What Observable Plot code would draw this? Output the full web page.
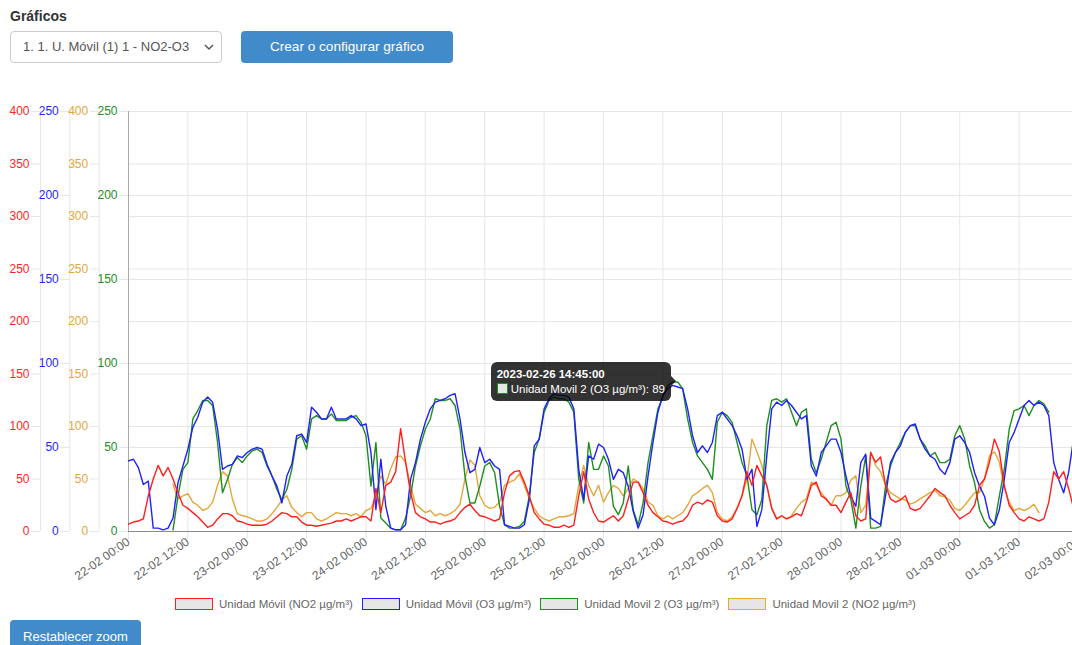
<!DOCTYPE html>
<html>
<head>
<meta charset="utf-8">
<script src="https://cdn.jsdelivr.net/npm/d3@7"></script>
<script src="https://cdn.jsdelivr.net/npm/@observablehq/plot@0.6"></script>
<style>
  html, body { margin: 0; padding: 0; background: #fff; overflow: hidden; width: 1072px; height: 645px; }
  body { font-family: "Liberation Sans", Arial, Helvetica, sans-serif; position: relative; }
  #title { position: absolute; left: 10px; top: 6px; font-size: 14px; font-weight: bold; color: #333; line-height: 20px; }
  #sel { position: absolute; left: 10px; top: 31px; width: 212px; height: 32px; box-sizing: border-box;
         border: 1px solid #ccc; border-radius: 4px; background: #fff; font-size: 13px; color: #555;
         line-height: 30px; padding-left: 12px; }
  #sel svg { position: absolute; right: 7px; top: 11px; }
  .btn { position: absolute; background: #428bca; color: #fff; text-align: center; border-radius: 4px; }
  #make { left: 241px; top: 31px; width: 212px; height: 32px; line-height: 32px; font-size: 13.6px; }
  #reset { left: 10px; top: 620px; width: 131px; height: 34px; line-height: 34px; font-size: 13px; }
  #chart { position: absolute; left: 0; top: 95px; width: 1088px; }
  #chart svg { max-width: none !important; }
  #legend { position: absolute; left: 175px; top: 598px; display: flex; align-items: center; font-size: 11.5px; color: #666; white-space: nowrap; }
  .item { display: flex; align-items: center; margin-right: 9px; }
  .box { width: 36px; height: 10px; background: #e6e6e6; margin-right: 6px; }
  #tip { position: absolute; background: rgba(0,0,0,0.8); color: #fff; border-radius: 6px; padding: 5px 6px 5px 6px;
         font-size: 11.5px; line-height: 14px; white-space: nowrap; }
  #tip .t { font-weight: bold; margin-bottom: 1px; }
  #tip .sw { display: inline-block; width: 9px; height: 9px; background: #e6e6e6; vertical-align: -1px; margin-right: 3px; }
  #tip:after { content: ""; position: absolute; right: -5px; top: 50%; margin-top: -5px;
               border-top: 5px solid transparent; border-bottom: 5px solid transparent; border-left: 5px solid rgba(0,0,0,0.8); }
</style>
</head>
<body>
<div id="title">Gráficos</div>
<div id="sel">1. 1. U. Móvil (1) 1 - NO2-O3<svg width="10" height="8" viewBox="0 0 10 8"><polyline points="1,2 5,6 9,2" fill="none" stroke="#555" stroke-width="1.5"/></svg></div>
<div id="make" class="btn">Crear o configurar gráfico</div>
<div id="chart"></div>
<div id="legend"></div>
<div id="reset" class="btn">Restablecer zoom</div>
<script>
// ---- data (hourly readings starting 2023-02-22 00:00) ----
const startTime = "2023-02-22T00:00:00Z";
const seriesNames = ["Unidad Móvil (NO2 µg/m³)", "Unidad Móvil (O3 µg/m³)", "Unidad Movil 2 (O3 µg/m³)", "Unidad Movil 2 (NO2 µg/m³)"];
const seriesColors = ["#ff1f1f", "#1f1fff", "#1e8e1e", "#e3a73a"];

const no2Movil = [
  7,9,10,12,34,50,63,53,61,50,37,25,
  22,18,14,9,4,6,12,17,17,15,10,9,
  7,6,6,6,7,10,14,18,17,14,14,9,
  6,6,5,6,7,8,10,10,12,10,12,14,
  14,10,41,18,44,47,57,98,66,37,18,14,
  12,9,9,7,9,10,12,18,23,26,20,15,
  14,12,10,12,37,53,57,58,47,34,18,12,
  7,6,4,4,6,4,6,34,57,31,18,
  10,9,12,15,10,15,31,47,47,37,25,18,
  14,10,9,7,9,10,15,25,28,26,30,28,
  15,10,9,12,22,34,57,44,63,53,44,22,
  12,15,12,14,17,15,28,44,47,34,31,25,
  25,18,28,37,15,10,12,75,66,71,44,31,
  28,30,34,22,20,22,28,34,41,37,34,25,
  18,12,15,18,25,44,50,66,88,76,44,25,
  18,12,10,14,12,10,12,28,57,50,57,41,22,
  20
];
const o3Movil = [
  42,43,38,28,30,2,2,1,2,8,29,39,
  49,62,68,77,80,77,61,37,39,40,45,44,
  47,49,50,49,40,33,27,17,33,40,57,58,
  53,74,71,67,67,74,67,67,67,69,67,63,
  64,47,13,43,15,2,1,1,4,31,41,55,
  65,73,77,78,79,81,82,67,47,35,37,50,
  41,43,39,37,4,3,2,2,4,19,51,55,
  73,79,82,81,81,80,73,37,19,45,43,
  52,50,43,31,37,35,27,12,2,10,33,53,
  71,81,85,87,86,85,73,57,47,51,47,53,
  69,71,67,63,57,49,31,37,3,13,45,73,
  77,75,78,75,71,67,69,39,33,47,51,55,
  55,47,33,21,15,41,46,8,6,4,21,41,
  47,51,59,63,64,55,49,45,43,37,34,41,
  55,57,53,47,35,27,21,8,4,13,31,53,
  59,67,75,78,75,77,75,69,41,31,23,35,55,
  52
];
const o3Movil2 = [
  null,null,null,null,null,null,null,null,null,1,21,37,
  41,67,72,78,78,75,53,23,31,40,44,41,
  45,48,49,47,39,33,25,19,25,37,55,57,
  49,67,69,67,67,70,66,66,66,68,69,65,
  57,27,53,8,5,2,1,1,8,21,39,51,
  61,67,79,78,78,79,75,61,33,17,17,27,
  39,41,35,15,4,2,2,3,6,21,47,55,
  71,78,80,79,79,77,71,31,17,53,37,
  37,45,39,15,10,17,39,13,4,17,41,57,
  73,80,87,89,89,85,67,53,45,41,37,31,
  65,71,69,65,53,41,33,13,10,19,63,78,
  79,77,79,71,63,71,73,43,35,43,53,63,
  65,55,27,19,2,27,45,2,2,3,27,39,
  47,53,59,63,63,55,51,45,47,41,41,43,
  57,63,55,39,29,13,6,2,4,21,37,61,
  72,73,75,69,75,78,76,71,
  null,null,null,null,null,null
];
const no2Movil2 = [
  null,null,null,null,null,null,null,null,null,45,31,34,
  36,28,25,20,22,28,44,57,53,31,17,15,
  14,12,10,10,12,17,23,30,34,23,18,14,
  18,18,12,10,12,15,18,17,17,15,17,14,
  20,22,34,53,45,60,71,72,66,44,26,22,
  18,20,15,17,15,17,20,26,50,68,63,34,
  25,22,23,28,44,47,49,55,44,31,22,15,
  12,10,12,14,14,15,17,44,63,44,34,
  44,28,37,44,41,34,41,50,47,41,28,25,
  15,12,15,12,15,18,25,34,37,41,44,37,
  18,12,10,14,22,34,50,88,76,63,44,22,
  12,15,12,15,22,28,31,47,44,37,31,25,
  34,34,37,49,53,18,25,76,63,57,44,37,
  34,31,30,26,28,31,34,37,39,34,33,30,
  22,20,25,31,37,37,50,72,76,66,41,28,
  20,22,20,22,26,18,
  null,null,null,null,null,null,null,null
];
const no2Ticks = [0, 50, 100, 150, 200, 250, 300, 350, 400];
const o3Ticks = [0, 50, 100, 150, 200, 250];
const tooltipTime = "2023-02-26T14:45:00Z";
const tooltipTitle = "2023-02-26 14:45:00";
const tooltipSeries = 2;
const tooltipValue = 89;

// ---- build ----
const HOUR = 3600e3;
const t0 = Date.parse(startTime);
const tEnd = new Date(t0 + 192 * HOUR);
const k = 400 / 250; // O3 axis (0-250) mapped onto NO2 axis (0-400)
const toRows = (vals, f) => vals.map((v, i) => ({t: new Date(t0 + i * HOUR), v: v == null ? NaN : v * f}));
const xTicks = d3.utcHour.every(12).range(new Date(t0), new Date(tEnd.getTime() + 1));
const o3Scaled = o3Ticks.map(v => v * k);
const GRID = "#e6e6e6";
const axisCommon = {tickSize: 9, tickPadding: 2, stroke: GRID, fontSize: 12, label: null};

const lineOpts = (i) => ({x: "t", y: "v", stroke: seriesColors[i], strokeWidth: 1.4});

const chart = Plot.plot({
  width: 1088, height: 490,
  marginTop: 16, marginBottom: 54, marginLeft: 128, marginRight: 10,
  style: {fontFamily: "'Liberation Sans', Arial, Helvetica, sans-serif", fontSize: "12px", background: "transparent", maxWidth: "none"},
  x: {type: "utc", domain: [new Date(t0), tEnd], label: null},
  y: {domain: [0, 400], label: null},
  marks: [
    Plot.ruleY(no2Ticks, {stroke: GRID}),
    Plot.ruleY(o3Scaled, {stroke: GRID}),
    Plot.ruleX(xTicks, {stroke: GRID}),
    Plot.ruleX([new Date(t0)], {stroke: GRID, dx: -88}),
    Plot.ruleX([new Date(t0)], {stroke: GRID, dx: -58.7}),
    Plot.ruleX([new Date(t0)], {stroke: GRID, dx: -29.3}),
    Plot.axisX(xTicks, {tickSize: 8, tickPadding: 1, stroke: GRID, fill: "#666", tickRotate: -35,
      tickFormat: d3.utcFormat("%d-%m %H:%M"), fontSize: 12, label: null}),
    Plot.axisY(no2Ticks, {...axisCommon, dx: -88, fill: seriesColors[0], tickFormat: d => d}),
    Plot.axisY(o3Scaled, {...axisCommon, dx: -58.7, fill: seriesColors[1], tickFormat: d => Math.round(d / k)}),
    Plot.axisY(no2Ticks, {...axisCommon, dx: -29.3, fill: seriesColors[3], tickFormat: d => d}),
    Plot.axisY(o3Scaled, {...axisCommon, dx: 0, fill: seriesColors[2], tickFormat: d => Math.round(d / k)}),
    Plot.ruleX([new Date(t0)], {stroke: "#a8a8a8"}),
    Plot.ruleY([0], {stroke: "#8a8a8a"}),
    Plot.line(toRows(no2Movil2, 1), lineOpts(3)),
    Plot.line(toRows(o3Movil2, k), lineOpts(2)),
    Plot.line(toRows(o3Movil, k), lineOpts(1)),
    Plot.line(toRows(no2Movil, 1), lineOpts(0))
  ]
});
chart.style.maxWidth = "none";
document.getElementById("chart").appendChild(chart);

// legend
const legend = document.getElementById("legend");
seriesNames.forEach((name, i) => {
  const it = document.createElement("div");
  it.className = "item";
  it.innerHTML = `<span class="box" style="border:1.5px solid ${seriesColors[i]}"></span><span>${name}</span>`;
  legend.appendChild(it);
});

// tooltip
const tip = document.createElement("div");
tip.id = "tip";
tip.innerHTML = `<div class="t">${tooltipTitle}</div><div><span class="sw" style="border:1px solid ${seriesColors[tooltipSeries]}"></span>${seriesNames[tooltipSeries]}: ${tooltipValue}</div>`;
document.body.appendChild(tip);
const px = chart.scale("x").apply(new Date(tooltipTime));
const py = chart.scale("y").apply(tooltipValue * k);
const r = tip.getBoundingClientRect();
tip.style.left = (px - 5 - r.width) + "px";
tip.style.top = (95 + py - r.height / 2) + "px";
</script>
</body>
</html>
